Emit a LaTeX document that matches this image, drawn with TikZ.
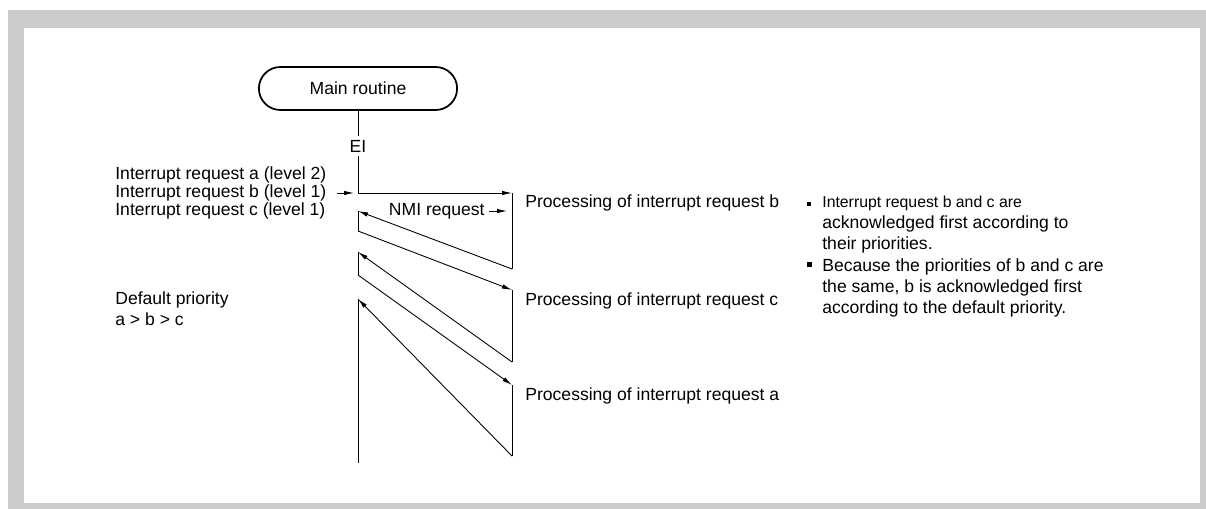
\documentclass[tikz,border=0pt]{standalone}
\usepackage{fontspec}
\setmainfont{Liberation Sans}
\usetikzlibrary{arrows.meta,positioning,shapes.misc}
\definecolor{framegray}{RGB}{204,204,204}

\begin{document}
\begin{tikzpicture}[x=0.02cm, y=-0.02cm, font=\fontsize{10}{12}\selectfont,
    flow/.style={-{Latex[length=2mm,width=0.9mm]}, line width=0.5pt},
    wire/.style={line width=0.5pt},
    txt/.style={anchor=west, inner sep=0pt}]

        % Frame
        \fill[framegray] (8,10) rectangle (1206,509);
        \fill[white] (24,28) rectangle (1200,503);
        \useasboundingbox (0,0) rectangle (1206,509);

        % Main routine with EI
        \node[draw, rounded rectangle, line width=1pt, minimum width=4.2cm, minimum height=0.86cm] (main) at (358,88.5) {Main routine};
        \node[inner sep=2pt] (ei) at (358,146) {EI};
        \draw[wire] (main.south) -- (ei.north);

        % Turning points
        \coordinate (btop) at (512,193);
        \coordinate (bbot) at (512,269);
        \coordinate (bret) at (358,211);
        \coordinate (cgo) at (358,231);
        \coordinate (ctop) at (512,290);
        \coordinate (cbot) at (512,362);
        \coordinate (cret) at (358,252);
        \coordinate (ago) at (358,275);
        \coordinate (atop) at (512,385);
        \coordinate (abot) at (512,456);
        \coordinate (aret) at (358,299);
        \coordinate (mend) at (358,463);

        % Interrupt requests
        \node[txt] (reqa) at (115,175) {Interrupt request a (level 2)};
        \node[txt] (reqb) at (115,193) {Interrupt request b (level 1)};
        \node[txt] (reqc) at (115,211) {Interrupt request c (level 1)};
        \draw[flow] ([xshift=0.2cm]reqb.east) -- ([xshift=-0.08cm]ei.south |- btop);

        % Processing of b
        \draw[flow] (ei.south) |- (btop);
        \draw[wire] (btop) -- (bbot);
        \node[txt] (procb) at (525,203) {Processing of interrupt request b};
        \node[anchor=east, inner sep=0pt] (nmi) at (485,211) {NMI request};
        \draw[flow] ([xshift=0.08cm]nmi.east) -- ([xshift=-0.1cm]bbot |- nmi);
        \draw[flow] (bbot) -- (bret);
        \draw[wire] (bret) -- (cgo);

        % Processing of c
        \draw[flow] (cgo) -- (ctop);
        \draw[wire] (ctop) -- (cbot);
        \node[txt] (procc) at (525,301) {Processing of interrupt request c};
        \draw[flow] (cbot) -- (cret);
        \draw[wire] (cret) -- (ago);

        % Processing of a
        \draw[flow] (ago) -- (atop);
        \draw[wire] (atop) -- (abot);
        \node[txt] (proca) at (525,396) {Processing of interrupt request a};
        \draw[flow] (abot) -- (aret);
        \draw[wire] (aret) -- (mend);

        % Default priority
        \node[txt, align=left] (dflt) at (115,308.5) {Default priority\\a > b > c};

        % Notes
        \node[txt, align=left] (note1) at (822,225) {{\fontsize{9}{12}\selectfont Interrupt request b and c are}\\acknowledged first according to\\their priorities.};
        \node[txt, align=left] (note2) at (822,288) {Because the priorities of b and c are\\the same, b is acknowledged first\\according to the default priority.};
        \fill (807,202) rectangle (811,206);
        \fill (807,262) rectangle (812,267);

\end{tikzpicture}
\end{document}
